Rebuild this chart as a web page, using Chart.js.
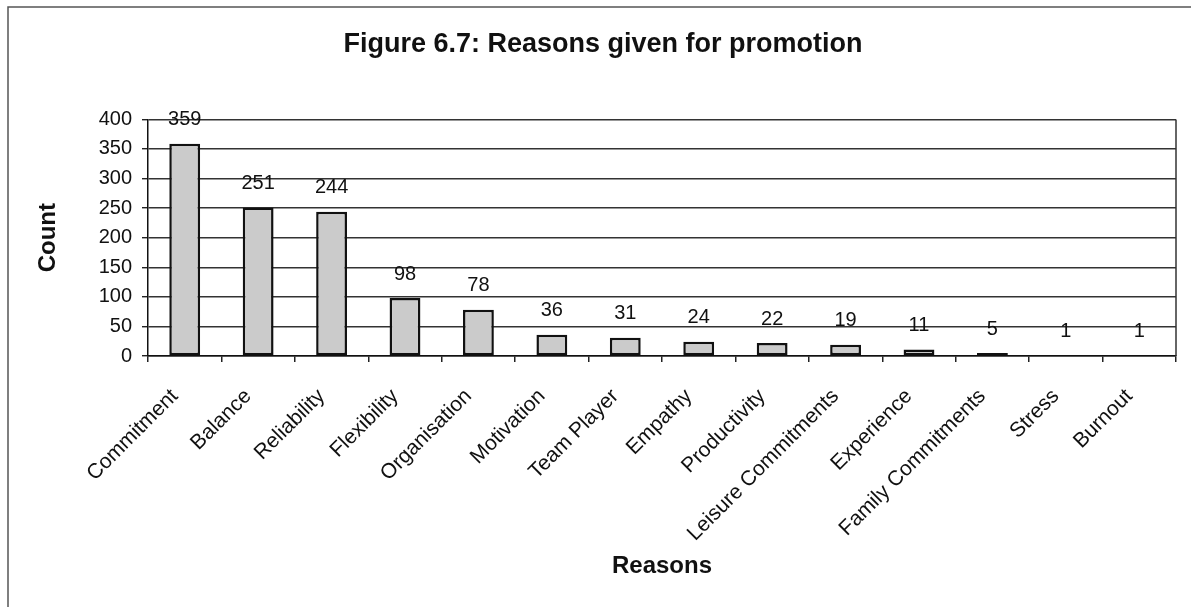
<!DOCTYPE html>
<html>
<head>
<meta charset="utf-8">
<script src="https://cdn.jsdelivr.net/npm/chart.js@4.4.1/dist/chart.umd.min.js"></script>
<style>
  html, body { margin: 0; padding: 0; background: #fff; }
  #wrap { position: relative; width: 1191px; height: 607px; }
</style>
</head>
<body>
<div id="wrap"><canvas id="chart" width="1191" height="607"></canvas></div>
<script>
// Reasons given for promotion, with the number of responses for each
const reasons = [
  'Commitment', 'Balance', 'Reliability', 'Flexibility', 'Organisation',
  'Motivation', 'Team Player', 'Empathy', 'Productivity', 'Leisure Commitments',
  'Experience', 'Family Commitments', 'Stress', 'Burnout'
];
const counts = [359, 251, 244, 98, 78, 36, 31, 24, 22, 19, 11, 5, 1, 1];

const countTicks = { min: 0, max: 400, step: 50 };

const FONT = "'Liberation Sans', Arial, Helvetica, sans-serif";
const INK = '#111111';

// White page with a thin frame along the top and left edges
const pageFrame = {
  id: 'pageFrame',
  beforeDraw(chart) {
    const { ctx, width, height } = chart;
    ctx.save();
    ctx.fillStyle = '#ffffff';
    ctx.fillRect(0, 0, width, height);
    ctx.strokeStyle = '#555555';
    ctx.lineWidth = 1.5;
    ctx.beginPath();
    ctx.moveTo(8, height);
    ctx.lineTo(8, 7);
    ctx.lineTo(width, 7);
    ctx.stroke();
    ctx.restore();
  }
};

// Closing line on the right side of the plot area
const plotEdge = {
  id: 'plotEdge',
  beforeDatasetsDraw(chart) {
    const { ctx, chartArea } = chart;
    ctx.save();
    ctx.strokeStyle = '#333333';
    ctx.lineWidth = 1.5;
    ctx.beginPath();
    ctx.moveTo(chartArea.right, chartArea.top);
    ctx.lineTo(chartArea.right, chartArea.bottom);
    ctx.stroke();
    ctx.restore();
  }
};

// Count written above each bar
const valueLabels = {
  id: 'valueLabels',
  afterDatasetsDraw(chart) {
    const { ctx } = chart;
    const meta = chart.getDatasetMeta(0);
    ctx.save();
    ctx.font = '20px ' + FONT;
    ctx.fillStyle = INK;
    ctx.textAlign = 'center';
    ctx.textBaseline = 'middle';
    meta.data.forEach((bar, i) => {
      ctx.fillText(String(counts[i]), bar.x, bar.y - 24);
    });
    ctx.restore();
  }
};

new Chart(document.getElementById('chart'), {
  type: 'bar',
  data: {
    labels: reasons,
    datasets: [{
      data: counts,
      backgroundColor: '#cbcbcb',
      borderColor: '#111111',
      borderWidth: 2.5,
      borderSkipped: false,
      categoryPercentage: 1,
      barPercentage: 0.42
    }]
  },
  options: {
    responsive: false,
    animation: false,
    layout: { padding: { left: 30, right: 15, top: 8, bottom: 22 } },
    plugins: {
      legend: { display: false },
      tooltip: { enabled: false },
      title: {
        display: true,
        text: 'Figure 6.7: Reasons given for promotion',
        color: INK,
        font: { family: FONT, size: 27, weight: 'bold' },
        padding: { top: 20, bottom: 59 }
      }
    },
    scales: {
      x: {
        grid: { offset: true, drawOnChartArea: false, tickLength: 6, color: '#222222', lineWidth: 1.5 },
        border: { color: '#111111', width: 1.5 },
        ticks: {
          autoSkip: false, minRotation: 45, maxRotation: 45,
          color: INK, font: { family: FONT, size: 21 }, padding: 22, labelOffset: -10
        },
        title: {
          display: true, text: 'Reasons', color: INK,
          font: { family: FONT, size: 24, weight: 'bold' },
          padding: { top: 4, bottom: 4 }
        },
        afterFit(scale) { scale.height = 229; }
      },
      y: {
        min: countTicks.min, max: countTicks.max,
        grid: { color: '#333333', lineWidth: 1.4, tickLength: 6, tickColor: '#222222' },
        border: { color: '#111111', width: 1.5 },
        ticks: {
          stepSize: countTicks.step, color: INK,
          font: { family: FONT, size: 20 }, padding: 10
        },
        title: {
          display: true, text: 'Count', color: INK,
          font: { family: FONT, size: 24, weight: 'bold' },
          padding: { top: 4, bottom: 4 }
        },
        afterFit(scale) { scale.width = 118; }
      }
    }
  },
  plugins: [pageFrame, plotEdge, valueLabels]
});
</script>
</body>
</html>
